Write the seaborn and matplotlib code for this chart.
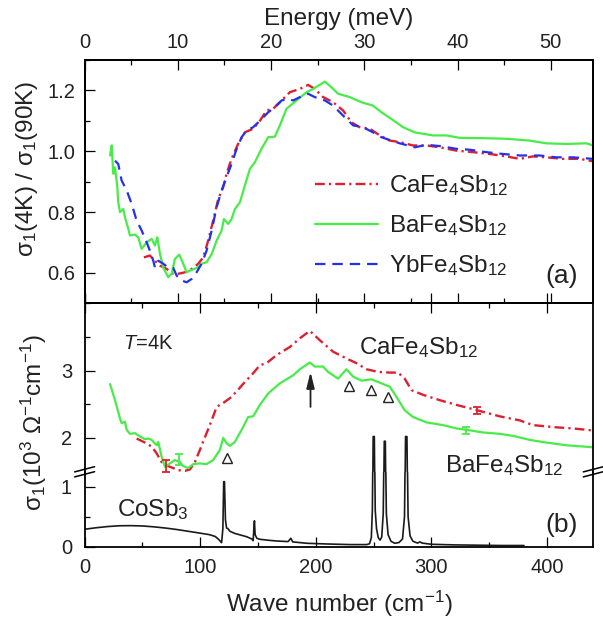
import numpy as np
import pandas as pd
import matplotlib
matplotlib.use("Agg")
import matplotlib.pyplot as plt
import seaborn as sns
from matplotlib.lines import Line2D
from matplotlib.ticker import MultipleLocator, FixedLocator

# ---------------- data: panel (a) ratio sigma1(4K)/sigma1(90K) vs wave number (cm^-1)
ca_ratio_x = [51.3, 56.5, 60.8, 65.2, 71, 76.7, 81, 86.8, 92.6, 98.3, 102.6, 106.9, 111.2, 115.6,
              119.9, 122.8, 127.1, 132.8, 138.6, 145.8, 151.6, 157.4, 163.1, 168.9, 177.5, 186.2,
              193.3, 199.1, 206.3, 215, 223.6, 230.8, 238, 246.7, 255.3, 264, 272.6, 284.1, 295.7,
              307.2, 321.6, 336, 350.4, 364.8, 376.3, 387.8, 399.4, 413.7, 428.2, 439.7]
ca_ratio_y = [0.651, 0.657, 0.64, 0.624, 0.613, 0.597, 0.597, 0.602, 0.613, 0.63, 0.651, 0.706,
              0.772, 0.843, 0.882, 0.926, 0.975, 1.024, 1.062, 1.074, 1.10, 1.134, 1.14, 1.161,
              1.194, 1.205, 1.218, 1.205, 1.178, 1.161, 1.134, 1.095, 1.079, 1.074, 1.052, 1.035,
              1.03, 1.019, 1.019, 1.013, 1.002, 0.997, 0.991, 0.983, 0.975, 0.983, 0.98, 0.975,
              0.975, 0.967]

ba_ratio_x = [22, 23.4, 24.8, 26.3, 28.3, 29.1, 30.6, 33.5, 34.9, 37.8, 39.2, 43.6, 46.4, 49.3,
              53.7, 58, 60.8, 62.9, 65.2, 68, 72.3, 75.3, 78.1, 81.9, 85.3, 88.2, 92.6, 96.9,
              101.2, 105.5, 109.9, 114.2, 118.5, 120.5, 124.2, 127.1, 130, 134.3, 138.6, 143,
              147.3, 153, 158.8, 164.6, 168.9, 174.7, 183.3, 192, 197.7, 207.8, 213.6, 219.3,
              229.4, 239.5, 249.5, 256.8, 265.4, 275.5, 285.6, 301.4, 313, 324.5, 344.6, 364.8,
              385, 399.4, 416.7, 434, 439.7]
ba_ratio_y = [0.986, 1.019, 0.926, 0.947, 0.882, 0.832, 0.80, 0.81, 0.783, 0.745, 0.723, 0.726,
              0.717, 0.679, 0.70, 0.712, 0.69, 0.717, 0.662, 0.618, 0.586, 0.597, 0.646, 0.66,
              0.63, 0.602, 0.61, 0.616, 0.63, 0.635, 0.662, 0.706, 0.739, 0.777, 0.761, 0.777,
              0.81, 0.832, 0.887, 0.942, 0.964, 1.008, 1.046, 1.048, 1.085, 1.14, 1.167, 1.194,
              1.205, 1.229, 1.21, 1.189, 1.178, 1.161, 1.15, 1.128, 1.106, 1.079, 1.062, 1.052,
              1.052, 1.044, 1.043, 1.041, 1.035, 1.026, 1.024, 1.026, 1.019]

yb_ratio_x = [26.3, 29.1, 32, 36.4, 40.7, 45, 49.4, 53.7, 56.5, 59.4, 60.8, 63.7, 68, 72.3, 76.7,
              79.6, 83.9, 88.2, 92.6, 96.9, 101.2, 105.5, 109.9, 114.2, 118.5, 122.8, 127.1,
              131.5, 135.8, 140.1, 145.8, 151.6, 158.8, 164.6, 170.4, 176.1, 180.4, 186.2, 193.3,
              199.1, 207.8, 215, 223.6, 232.3, 240.9, 249.5, 256.8, 265.4, 272.6, 285.6, 295.7,
              307.2, 321.6, 333.1, 347.5, 361.9, 376.3, 393.6, 408, 422.4, 439.7]
yb_ratio_y = [0.969, 0.958, 0.904, 0.871, 0.827, 0.772, 0.739, 0.70, 0.673, 0.64, 0.618, 0.64,
              0.63, 0.618, 0.616, 0.591, 0.575, 0.569, 0.58, 0.602, 0.63, 0.673, 0.739, 0.816,
              0.871, 0.915, 0.958, 1.008, 1.046, 1.068, 1.079, 1.10, 1.128, 1.145, 1.167, 1.172,
              1.167, 1.178, 1.189, 1.178, 1.167, 1.15, 1.117, 1.085, 1.079, 1.062, 1.046, 1.035,
              1.026, 1.013, 1.021, 1.017, 1.008, 1.005, 0.997, 0.991, 0.986, 0.986, 0.98, 0.98,
              0.975]

# ---------------- data: panel (b) sigma1 at 4 K (10^3 Ohm^-1 cm^-1)
ca_sig_x = [45, 52.2, 58, 62.3, 66.6, 70.9, 75.3, 81, 86.8, 91.1, 95.4, 99.7, 105.5, 109.9,
            114.2, 120, 125.7, 131.5, 138.6, 145.8, 151.6, 157.4, 166, 177.5, 186.2, 194.8,
            203.5, 215, 226.5, 235.2, 243.8, 253.9, 264, 271.1, 276.9, 282.7, 292.7, 307.2,
            321.6, 339.7, 359, 376.3, 387.8, 405.1, 422.4, 439.7]
ca_sig_y = [1.99, 1.93, 1.87, 1.77, 1.64, 1.59, 1.56, 1.52, 1.51, 1.53, 1.64, 1.82, 2.07, 2.26,
            2.46, 2.52, 2.59, 2.69, 2.83, 2.96, 3.08, 3.11, 3.23, 3.35, 3.48, 3.59, 3.45, 3.28,
            3.18, 3.11, 3.02, 2.98, 2.97, 2.97, 2.88, 2.71, 2.64, 2.56, 2.49, 2.41, 2.32, 2.26,
            2.19, 2.16, 2.14, 2.11]

ba_sig_x = [22, 26.3, 30.6, 32, 34.9, 36.4, 39.2, 43.6, 47.9, 52.2, 55.1, 58, 62.3, 63.7, 66.6,
            69.5, 73.8, 78.1, 82.5, 85.3, 89.6, 94, 99.7, 105.5, 111.2, 117, 119.9, 122.8, 125.7,
            130, 135.8, 141.5, 145.8, 151.6, 158.8, 168.9, 180.4, 186.2, 194.8, 199.1, 206.3,
            210.6, 219.3, 226.5, 232.3, 239.5, 248.1, 256.8, 264, 269.7, 276.9, 284.1, 295.7,
            310, 321.6, 330.3, 344.6, 359, 370.5, 385, 399.4, 416.7, 439.7]
ba_sig_y = [2.80, 2.56, 2.29, 2.22, 2.24, 2.12, 2.06, 2.07, 2.02, 1.98, 1.99, 1.97, 1.89, 1.94,
            1.72, 1.57, 1.62, 1.67, 1.64, 1.58, 1.55, 1.61, 1.62, 1.61, 1.67, 1.82, 2.0, 1.92,
            1.88, 1.94, 2.12, 2.31, 2.32, 2.49, 2.66, 2.81, 2.93, 3.02, 3.12, 3.06, 3.06, 2.98,
            2.88, 3.02, 2.91, 2.85, 2.87, 2.81, 2.76, 2.61, 2.41, 2.31, 2.23, 2.19, 2.14, 2.12,
            2.08, 2.06, 2.03, 1.97, 1.93, 1.89, 1.86]

co_sig_x = [0, 10, 20, 30, 40, 50, 60, 70, 80, 90, 100, 108, 113, 116, 118.5, 119.6, 120.3, 121,
            121.8, 122.8, 124, 125.7, 130, 140, 144.5, 145.8, 146.4, 146.9, 147.5, 149, 151.6,
            160, 166, 176, 178.4, 180, 192, 210, 230, 244, 246.5, 248, 248.9, 249.6, 250.6,
            251.4, 252.5, 254, 255.5, 257, 258.3, 259.2, 260.1, 261, 262.5, 265, 268.3, 272,
            275, 276.7, 277.6, 278.8, 279.8, 281.5, 284, 288, 290, 292, 300, 320, 340, 360, 380]
co_sig_y = [0.29, 0.315, 0.335, 0.348, 0.35, 0.345, 0.33, 0.31, 0.285, 0.255, 0.225, 0.2, 0.17,
            0.12, 0.067, 0.3, 1.08, 1.08, 0.45, 0.31, 0.3, 0.256, 0.22, 0.167, 0.13, 0.1, 0.3,
            0.43, 0.2, 0.14, 0.123, 0.105, 0.095, 0.085, 0.14, 0.08, 0.057, 0.045, 0.035, 0.035,
            0.05, 0.15, 0.6, 2.02, 2.02, 0.6, 0.3, 0.15, 0.11, 0.16, 0.55, 1.95, 1.95, 0.55,
            0.2, 0.09, 0.057, 0.07, 0.13, 0.5, 2.02, 2.02, 0.5, 0.18, 0.09, 0.06, 0.08, 0.06,
            0.04, 0.03, 0.025, 0.02, 0.02]

ca_err_x = [70.4, 339.7]
ca_err_y = [1.585, 2.405]
ca_err_e = [0.085, 0.055]
ba_err_x = [81.9, 330.3]
ba_err_y = [1.68, 2.11]
ba_err_e = [0.08, 0.05]

tri_x = [122.8, 228.5, 247.5, 262.8]
tri_y = [1.70, 2.77, 2.71, 2.60]
arrow_x = 195.4
arrow_y = (2.46, 2.98)

labels = [r"CaFe$_4$Sb$_{12}$", r"BaFe$_4$Sb$_{12}$", r"YbFe$_4$Sb$_{12}$"]
CM_PER_MEV = 8.0655

# ---------------- style
sns.set_theme(style="ticks")
plt.rcParams["font.family"] = ["Liberation Sans", "DejaVu Sans"]
plt.rcParams.update({
    "mathtext.fontset": "custom",
    "mathtext.rm": "Liberation Sans",
    "mathtext.it": "Liberation Sans:italic",
    "mathtext.bf": "Liberation Sans:bold",
    "mathtext.sf": "Liberation Sans",
    "mathtext.default": "regular",
    "lines.scale_dashes": False,
    "axes.edgecolor": "black",
    "axes.linewidth": 1.3,
    "text.color": "#222222",
    "xtick.color": "black", "ytick.color": "black",
    "xtick.labelcolor": "#222222", "ytick.labelcolor": "#222222",
    "xtick.direction": "in", "ytick.direction": "in",
    "xtick.major.size": 7, "ytick.major.size": 7,
    "xtick.minor.size": 3.8, "ytick.minor.size": 3.8,
    "xtick.major.width": 0.9, "ytick.major.width": 0.9,
    "xtick.minor.width": 0.9, "ytick.minor.width": 0.9,
    "xtick.labelsize": 14.5, "ytick.labelsize": 14.5,
})

RED = "#dd2030"
GREEN = "#48ec48"
BLUE = "#2431ea"
DASHDOT = (0, (7, 3, 1.6, 3))
DASHED = (0, (7.5, 5))

W, H = 603, 622
fig = plt.figure(figsize=(W / 100, H / 100), dpi=100)


def px_axes(l, t, r, b):
    return fig.add_axes([l / W, 1 - b / H, (r - l) / W, (b - t) / H])


ax_a = px_axes(84.6, 60, 593.3, 303.3)
ax_up = px_axes(84.6, 303.3, 593.3, 471.5)
ax_lo = px_axes(84.6, 471.5, 593.3, 546.7)
ax_lo.patch.set_alpha(0)
ax_up.patch.set_alpha(0)

# ---------------- panel (a)
sns.lineplot(x=ca_ratio_x, y=ca_ratio_y, ax=ax_a, color=RED, lw=1.7, linestyle=DASHDOT,
             sort=False, estimator=None, label=labels[0])
sns.lineplot(x=ba_ratio_x, y=ba_ratio_y, ax=ax_a, color=GREEN, lw=1.6,
             sort=False, estimator=None, label=labels[1])
sns.lineplot(x=yb_ratio_x, y=yb_ratio_y, ax=ax_a, color=BLUE, lw=1.6, linestyle=DASHED,
             sort=False, estimator=None, label=labels[2])
ax_a.set_xlim(0, 440)
ax_a.set_ylim(0.5, 1.3)
ax_a.yaxis.set_major_locator(MultipleLocator(0.2))
ax_a.yaxis.set_minor_locator(MultipleLocator(0.1))
ax_a.tick_params(axis="x", which="both", bottom=False, top=False, labelbottom=False)
ax_a.tick_params(axis="y", which="both", left=True, right=False, pad=7)
ax_a.set_xlabel("")
ax_a.set_ylabel("")
leg = ax_a.legend(loc="center left", bbox_to_anchor=(0.452, 0.318), frameon=False,
                  fontsize=17.5, handlelength=2.6, handletextpad=0.45, labelspacing=0.62,
                  borderpad=0, borderaxespad=0)
ax_a.text(426.7, 0.591, "(a)", fontsize=19, ha="right", va="center")

ax_e = ax_a.twiny()
ax_e.set_xlim(0, 440 / CM_PER_MEV)
ax_e.xaxis.set_major_locator(MultipleLocator(10))
ax_e.xaxis.set_minor_locator(MultipleLocator(5))
ax_e.xaxis.set_ticks_position("both")
ax_e.tick_params(axis="x", which="both", top=True, bottom=True, labeltop=True,
                 labelbottom=False, pad=6)
for sp in ax_e.spines.values():
    sp.set_linewidth(1.3)

# ---------------- panel (b), broken y axis
for ax in (ax_up, ax_lo):
    sns.lineplot(x=co_sig_x, y=co_sig_y, ax=ax, color="#1a1a1a", lw=1.2,
                 sort=False, estimator=None)
    ax.set_xlim(0, 440)
    ax.xaxis.set_major_locator(MultipleLocator(100))
    ax.xaxis.set_minor_locator(MultipleLocator(50))
    ax.tick_params(axis="y", which="both", left=True, right=False, pad=9)
    ax.set_xlabel("")
    ax.set_ylabel("")

sns.lineplot(x=ca_sig_x, y=ca_sig_y, ax=ax_up, color=RED, lw=1.7, linestyle=DASHDOT,
             sort=False, estimator=None)
sns.lineplot(x=ba_sig_x, y=ba_sig_y, ax=ax_up, color=GREEN, lw=1.6,
             sort=False, estimator=None)
ax_up.errorbar(ca_err_x, ca_err_y, yerr=ca_err_e, fmt="none", ecolor=RED, elinewidth=1.3,
               capsize=3, capthick=1.3)
ax_up.errorbar(ba_err_x, ba_err_y, yerr=ba_err_e, fmt="none", ecolor=GREEN, elinewidth=1.3,
               capsize=3, capthick=1.3)
ax_up.plot(tri_x, tri_y, ls="none", marker="^", ms=7.5, mfc="white", mec="#222222", mew=1.0)
ax_up.annotate("", xy=(arrow_x, arrow_y[1]), xytext=(arrow_x, arrow_y[0]),
               arrowprops=dict(arrowstyle="-|>,head_length=0.8,head_width=0.2",
                               color="#222222", lw=1.3, mutation_scale=12, shrinkA=0, shrinkB=0))
ax_up.set_ylim(1.5, 4.0)
ax_up.yaxis.set_major_locator(FixedLocator([2, 3]))
ax_up.yaxis.set_minor_locator(FixedLocator([2.5, 3.5]))
ax_up.spines["bottom"].set_visible(False)
ax_up.tick_params(axis="x", which="both", bottom=False, top=True, labelbottom=False)

ax_lo.set_ylim(0, 1.25)
ax_lo.yaxis.set_major_locator(FixedLocator([0, 1]))
ax_lo.yaxis.set_minor_locator(FixedLocator([0.5]))
ax_lo.spines["top"].set_visible(False)
ax_lo.tick_params(axis="x", which="both", bottom=True, top=False, pad=8)

ax_up.text(33.5, 3.315, r"$\mathit{T}$=4K", fontsize=14.5, ha="left", va="baseline")
ax_up.text(237.5, 3.245, labels[0], fontsize=17.5, ha="left", va="baseline")
ba_txt = ax_up.text(311.5, 1.496, labels[1], fontsize=17.5, ha="left", va="baseline",
                    clip_on=False, zorder=10)
ax_lo.text(28.3, 0.51, r"CoSb$_3$", fontsize=17.5, ha="left", va="baseline")
ax_lo.text(426.7, 0.36, "(b)", fontsize=19, ha="right", va="center")

# break marks on both spines
for xc in (84.6, 593.3):
    for yc in (469.3, 474.3):
        fig.add_artist(Line2D([(xc - 10) / W, (xc + 10) / W],
                              [1 - (yc + 2.6) / H, 1 - (yc - 2.6) / H],
                              transform=fig.transFigure, color="black", lw=1.1))

# axis labels
fig.text(339 / W, 1 - 19 / H, "Energy (meV)", fontsize=17.5, ha="center", va="center")
fig.text(339 / W, 1 - 604 / H, r"Wave number (cm$^{-1}$)", fontsize=17.5,
         ha="center", va="center")
fig.text(27 / W, 1 - 169 / H, r"σ$_1$(4K) / σ$_1$(90K)", fontsize=17.5, rotation=90,
         ha="center", va="center")
fig.text(34 / W, 1 - 423 / H, r"σ$_1$(10$^3$ Ω$^{-1}$cm$^{-1}$)", fontsize=17.5,
         rotation=90, ha="center", va="center")

fig.savefig("out.png", dpi=100)
